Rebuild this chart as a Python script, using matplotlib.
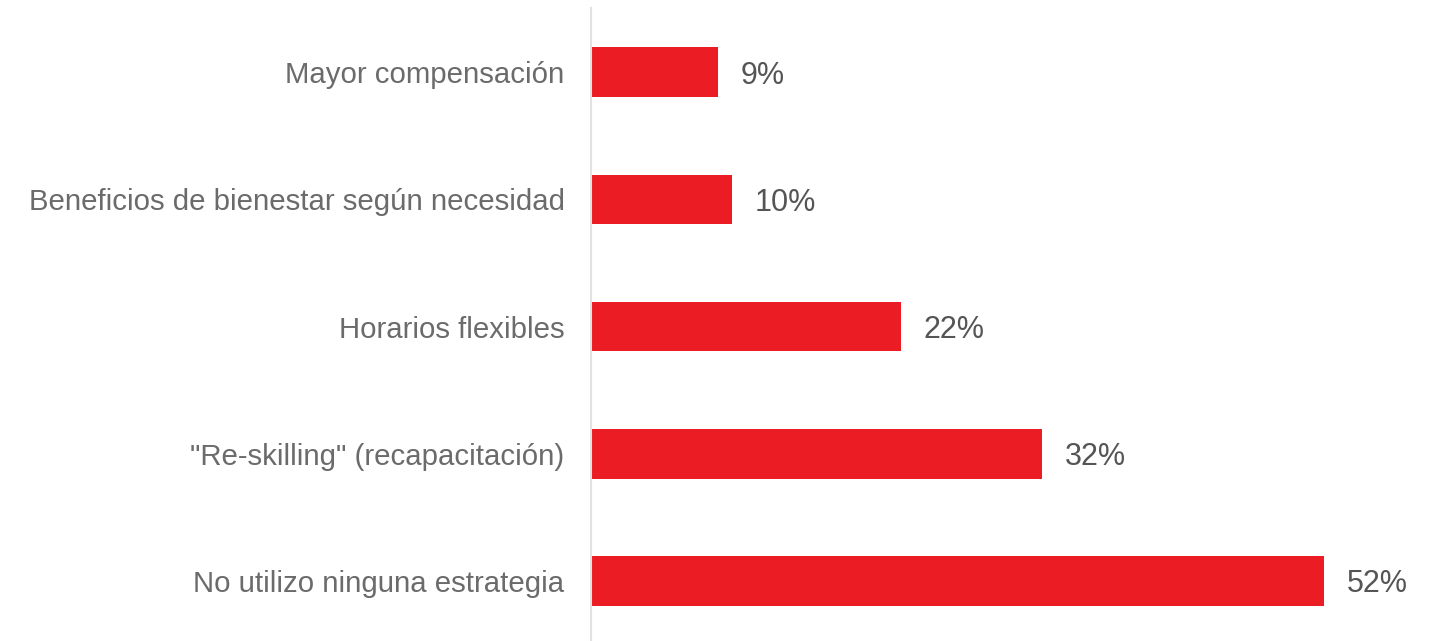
import matplotlib.pyplot as plt

categorias = [
    'Mayor compensación',
    'Beneficios de bienestar según necesidad',
    'Horarios flexibles',
    '"Re-skilling" (recapacitación)',
    'No utilizo ninguna estrategia',
]
valores = [9, 10, 22, 32, 52]

plt.rcParams['font.family'] = ['Liberation Sans', 'DejaVu Sans']

W, H = 1444, 641
fig = plt.figure(figsize=(W / 100, H / 100), dpi=100)
ax = fig.add_axes([591 / W, 0, 804 / W, 633 / H])

pos = list(range(len(categorias)))
ax.barh(pos, valores, height=0.39, color='#EC1C24')

# rótulos de valor à direita de cada barra
for y, v in zip(pos, valores):
    ax.annotate(f'{v}%', xy=(v, y), xytext=(16, 0), textcoords='offset points',
                va='center_baseline', ha='left', fontsize=22, color='#555555')

ax.set_xlim(0, 57)
ax.set_ylim(4.472, -0.504)
ax.set_yticks(pos)
ax.set_yticklabels(categorias, fontsize=21.2, color='#6b6b6b')
ax.tick_params(axis='y', length=0, pad=19)
ax.set_xticks([])

for s in ['top', 'right', 'bottom']:
    ax.spines[s].set_visible(False)
ax.spines['left'].set_color('#e2e2e2')
ax.spines['left'].set_linewidth(1.5)

fig.savefig('out.png', dpi=100)
